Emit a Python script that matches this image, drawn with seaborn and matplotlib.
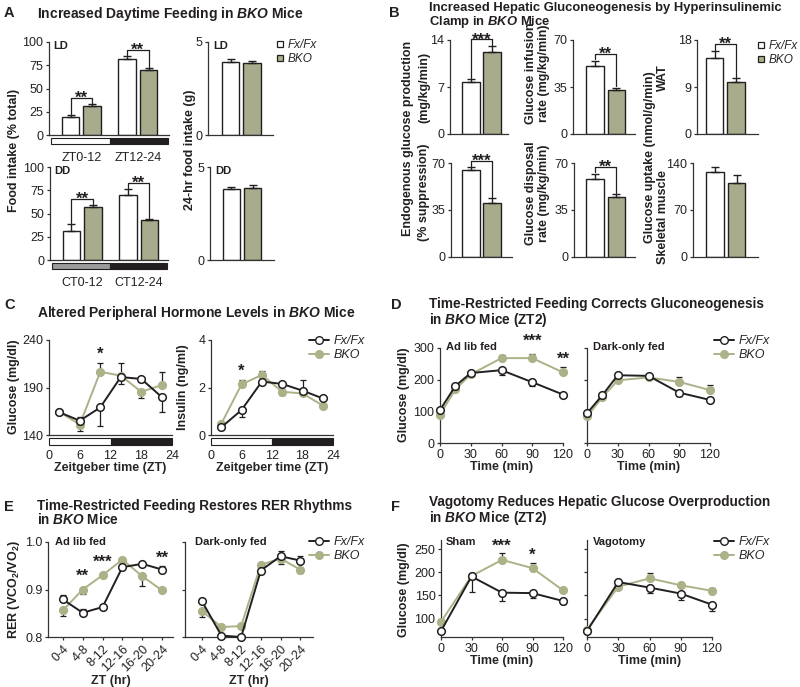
import numpy as np
import pandas as pd
import matplotlib
matplotlib.use("Agg")
import matplotlib.pyplot as plt
import seaborn as sns
from matplotlib.patches import Rectangle
from matplotlib.lines import Line2D

# ---------------- data ----------------
genotypes = ["Fx/Fx", "BKO"]

# A - food intake
ld_periods = ["ZT0-12", "ZT12-24"]
dd_periods = ["CT0-12", "CT12-24"]
ld_fx = [19, 82]
ld_fx_err = [2.5, 2.5]
ld_bko = [31, 70]
ld_bko_err = [2, 2]
dd_fx = [31.5, 70]
dd_fx_err = [7, 6]
dd_bko = [57.5, 42.5]
dd_bko_err = [1.5, 1.5]
day24 = ["24h"]
ld24_fx = [3.95]
ld24_fx_err = [0.14]
ld24_bko = [3.87]
ld24_bko_err = [0.09]
dd24_fx = [3.8]
dd24_fx_err = [0.14]
dd24_bko = [3.85]
dd24_bko_err = [0.18]

# B - clamp
clamp = ["clamp"]
egp_fx, egp_fx_err, egp_bko, egp_bko_err = [7.7], [0.5], [12.2], [0.9]
gir_fx, gir_fx_err, gir_bko, gir_bko_err = [50.5], [4], [32.5], [2]
wat_fx, wat_fx_err, wat_bko, wat_bko_err = [14.6], [1.3], [10.0], [0.7]
supp_fx, supp_fx_err, supp_bko, supp_bko_err = [64.5], [2.3], [40], [3.7]
gdr_fx, gdr_fx_err, gdr_bko, gdr_bko_err = [58.3], [3.7], [44.5], [2.3]
musc_fx, musc_fx_err, musc_bko, musc_bko_err = [126], [8], [110], [12.5]

# C - hormones (signed errors: + drawn up, - drawn down)
zt = [2, 6, 10, 14, 18, 22]
glu_fx = [164, 155, 169, 201, 199, 180]
glu_fx_err = [-1.5, 4, -19, -7, -3, -16]
glu_bko = [164.5, 151, 206.5, 202.5, 185.5, 192.5]
glu_bko_err = [-1, -7, 9.5, 13, -7, 14]
ins_fx = [0.32, 1.05, 2.25, 2.15, 1.87, 1.54]
ins_fx_err = [-0.05, -0.28, -0.1, 0.05, 0.45, 0.05]
ins_bko = [0.46, 2.13, 2.53, 1.82, 1.75, 1.24]
ins_bko_err = [0.05, 0.2, 0.18, -0.15, -0.05, -0.12]

# D - time restricted feeding, glucose
t_d = [0, 15, 30, 60, 90, 120]
adlib_fx = [104, 180, 221, 230, 192, 153]
adlib_fx_err = [3, 5, -10, -15, -12, -4]
adlib_bko = [90, 169, 217, 268, 268, 223]
adlib_bko_err = [-4, -5, 3, 10, 12, 18]
dark_fx = [94, 151, 214, 212, 159, 136]
dark_fx_err = [3, 4, -3, -4, -10, -3]
dark_bko = [84, 144, 198, 207, 193, 167]
dark_bko_err = [-3, -5, -3, 5, 15, 15]

# E - RER
zt_bins = ["0-4", "4-8", "8-12", "12-16", "16-20", "20-24"]
rer_ad_fx = [0.879, 0.851, 0.863, 0.947, 0.954, 0.942]
rer_ad_fx_err = [0.009, 0.008, 0.002, 0.003, 0.003, 0.008]
rer_ad_bko = [0.856, 0.900, 0.930, 0.963, 0.928, 0.898]
rer_ad_bko_err = [-0.011, -0.010, -0.003, 0.003, -0.021, -0.003]
rer_dk_fx = [0.876, 0.803, 0.800, 0.940, 0.970, 0.961]
rer_dk_fx_err = [0.003, -0.003, 0.0, 0.004, 0.011, 0.010]
rer_dk_bko = [0.855, 0.821, 0.823, 0.952, 0.965, 0.942]
rer_dk_bko_err = [-0.012, 0.002, 0.003, 0.003, -0.012, -0.007]

# F - vagotomy
t_f = [0, 30, 60, 90, 120]
sham_fx = [73, 191, 156, 155, 138]
sham_fx_err = [-3, -34, -18, -10, -7]
sham_bko = [93, 192, 227, 209, 161]
sham_bko_err = [4, 3, 14, 12, 2]
vag_fx = [73, 179, 167, 154, 130]
vag_fx_err = [-2, -3, -12, -13, -13]
vag_bko = [76, 169, 187, 172, 160]
vag_bko_err = [-2, -3, 11, 3, 5]

# ---------------- style ----------------
GREEN = "#adb187"
DARK = "#231f20"
W, H = 800, 687

sns.set_style("ticks")
plt.rcParams["font.family"] = ["Liberation Sans", "DejaVu Sans"]
plt.rcParams.update({
    "mathtext.fontset": "custom",
    "mathtext.default": "regular",
    "mathtext.it": "Liberation Sans:italic:bold",
    "axes.edgecolor": "#333333",
    "axes.linewidth": 0.9,
    "xtick.color": "#333333",
    "ytick.color": "#333333",
    "xtick.labelcolor": "#222222",
    "ytick.labelcolor": "#222222",
    "xtick.labelsize": 9,
    "ytick.labelsize": 9,
    "xtick.major.size": 2.5,
    "ytick.major.size": 2.5,
    "xtick.major.width": 0.9,
    "ytick.major.width": 0.9,
    "xtick.major.pad": 1.5,
    "ytick.major.pad": 1.5,
})

fig = plt.figure(figsize=(8, 6.87), dpi=100)


def px_axes(x0, y0, x1, y1):
    ax = fig.add_axes([x0 / W, 1 - y1 / H, (x1 - x0) / W, (y1 - y0) / H])
    sns.despine(ax=ax)
    return ax


def ftext(x, y, s, **kw):
    kw.setdefault("fontsize", 9)
    kw.setdefault("fontweight", "bold")
    kw.setdefault("va", "center")
    return fig.text(x / W, 1 - y / H, s, color=DARK, **kw)


def bar_pair(ax, cats, fx, fx_err, bko, bko_err, ymax, xlim, yticks):
    df = pd.DataFrame({
        "cat": list(cats) * 2,
        "genotype": [genotypes[0]] * len(cats) + [genotypes[1]] * len(cats),
        "value": list(fx) + list(bko),
    })
    sns.barplot(data=df, x="cat", y="value", hue="genotype",
                palette={"Fx/Fx": "white", "BKO": GREEN}, edgecolor=DARK,
                linewidth=1.0, width=0.76, gap=0.18, errorbar=None,
                legend=False, ax=ax)
    tops = []
    for cont, errs in zip(ax.containers, [fx_err, bko_err]):
        row = []
        for bar, e in zip(cont, errs):
            xc = bar.get_x() + bar.get_width() / 2
            ax.errorbar([xc], [bar.get_height()], yerr=[[0], [e]], fmt="none",
                        ecolor=DARK, elinewidth=1.0, capsize=3, capthick=1.0,
                        zorder=1)
            row.append((xc, bar.get_height() + e))
        tops.append(row)
    ax.set_ylim(0, ymax)
    ax.set_yticks(yticks)
    ax.set_yticklabels([f"{v:g}" for v in yticks])
    ax.set_xlim(*xlim)
    ax.set_xlabel("")
    ax.set_ylabel("")
    return tops


def bracket(ax, a, b, stars, ymax):
    (x1, y1), (x2, y2) = a, b
    level = max(y1, y2) + 0.07 * ymax
    ax.plot([x1, x1, x2, x2], [y1 + 0.015 * ymax, level, level, y2 + 0.015 * ymax],
            color=DARK, lw=0.9, clip_on=False)
    ax.annotate(stars, xy=((x1 + x2) / 2, level), xytext=(0, -3.5),
                textcoords="offset points", ha="center", va="baseline",
                fontsize=12, fontweight="bold", color=DARK, annotation_clip=False)


def light_dark(ax, spans):
    tr = ax.get_xaxis_transform()
    for (a, b, col) in spans:
        ax.add_patch(Rectangle((a, -0.10), b - a, 0.07, transform=tr,
                               facecolor=col, edgecolor=DARK, lw=0.8,
                               clip_on=False))


def line_pair(ax, x, fx, fx_err, bko, bko_err):
    for vals, errs, face, col, z in [(bko, bko_err, GREEN, GREEN, 3),
                                     (fx, fx_err, "white", DARK, 4)]:
        sns.lineplot(x=x, y=vals, ax=ax, color=col, lw=1.4, marker="o",
                     markersize=5.5, markerfacecolor=face, markeredgecolor=col,
                     markeredgewidth=1.1, zorder=z, clip_on=False, sort=False)
        up = [max(e, 0) for e in errs]
        lo = [max(-e, 0) for e in errs]
        ax.errorbar(x, vals, yerr=[lo, up], fmt="none", ecolor=DARK,
                    elinewidth=0.9, capsize=2.5, capthick=0.9,
                    zorder=z - 0.5, clip_on=False)
    ax.set_xlabel("")
    ax.set_ylabel("")


def star(ax, x, y, s, off=3):
    ax.annotate(s, xy=(x, y), xytext=(0, off), textcoords="offset points",
                ha="center", va="baseline", fontsize=12, fontweight="bold",
                color=DARK, annotation_clip=False)


def square_legend(x, y):
    hs = [Line2D([], [], ls="", marker="s", markersize=5, markerfacecolor=c,
                 markeredgecolor=DARK, markeredgewidth=0.9)
          for c in ["white", GREEN]]
    fig.legend(hs, genotypes, loc="upper left",
               bbox_to_anchor=(x / W, 1 - y / H), frameon=False,
               borderpad=0, borderaxespad=0, handlelength=0.6,
               handletextpad=0.35, labelspacing=0.15,
               prop={"style": "italic", "size": 8.5})


def line_legend(x, y):
    hs = [Line2D([], [], color=DARK, lw=1.4, marker="o", markersize=5.5,
                 markerfacecolor="white", markeredgecolor=DARK),
          Line2D([], [], color=GREEN, lw=1.4, marker="o", markersize=5.5,
                 markerfacecolor=GREEN, markeredgecolor=GREEN)]
    fig.legend(hs, genotypes, loc="upper left",
               bbox_to_anchor=(x / W, 1 - y / H), frameon=False,
               borderpad=0, borderaxespad=0, handlelength=1.6,
               handletextpad=0.4, labelspacing=0.15,
               prop={"style": "italic", "size": 9})


# ---------------- panel A ----------------
ftext(4, 13, "A", fontsize=10.5)
ftext(37, 14, r"Increased Daytime Feeding in $\mathit{BKO}$ Mice", fontsize=10)

ax = px_axes(49, 42, 169, 135)
t = bar_pair(ax, ld_periods, ld_fx, ld_fx_err, ld_bko, ld_bko_err, 100,
             (-0.57, 1.55), [0, 25, 50, 75, 100])
for i in range(2):
    bracket(ax, t[0][i], t[1][i], "**", 100)
light_dark(ax, [(-0.57 + 0.035, 0.5, "white"), (0.5, 1.53, DARK)])
ax.tick_params(axis="x", length=0, pad=12)
ftext(53, 46, "LD", fontsize=8)

ax = px_axes(208, 42, 273, 135)
bar_pair(ax, day24, ld24_fx, ld24_fx_err, ld24_bko, ld24_bko_err, 5,
         (-0.59, 0.56), [0, 5])
ax.set_xticks([])
ftext(213, 46, "LD", fontsize=8)

ax = px_axes(50, 167, 168, 260)
t = bar_pair(ax, dd_periods, dd_fx, dd_fx_err, dd_bko, dd_bko_err, 100,
             (-0.57, 1.52), [0, 25, 50, 75, 100])
for i in range(2):
    bracket(ax, t[0][i], t[1][i], "**", 100)
light_dark(ax, [(-0.57 + 0.035, 0.5, "#9b9b9b"), (0.5, 1.5, DARK)])
ax.tick_params(axis="x", length=0, pad=12)
ftext(54, 171, "DD", fontsize=8)

ax = px_axes(210, 167, 274, 260)
bar_pair(ax, day24, dd24_fx, dd24_fx_err, dd24_bko, dd24_bko_err, 5,
         (-0.57, 0.57), [0, 5])
ax.set_xticks([])
ftext(215, 171, "DD", fontsize=8)

ftext(14, 150, "Food intake (% total)", rotation=90, ha="center")
ftext(190, 150, "24-hr food intake (g)", rotation=90, ha="center")
square_legend(276, 39)

# ---------------- panel B ----------------
ftext(389, 13, "B", fontsize=10.5)
ftext(429, 16.5, "Increased Hepatic Gluconeogenesis by Hyperinsulinemic\n"
      r"Clamp in $\mathit{BKO}$ Mice", fontsize=9.4, linespacing=1.0)

b_panels = [
    ((450, 40, 508, 134), egp_fx, egp_fx_err, egp_bko, egp_bko_err, 14, (-0.56, 0.47), "***"),
    ((573, 40, 635, 134), gir_fx, gir_fx_err, gir_bko, gir_bko_err, 70, (-0.58, 0.52), "**"),
    ((697, 40, 758, 134), wat_fx, wat_fx_err, wat_bko, wat_bko_err, 18, (-0.5, 0.58), "**"),
    ((451, 163, 512, 257), supp_fx, supp_fx_err, supp_bko, supp_bko_err, 70, (-0.54, 0.54), "***"),
    ((574, 163, 635, 257), gdr_fx, gdr_fx_err, gdr_bko, gdr_bko_err, 70, (-0.56, 0.52), "**"),
    ((693, 163, 758, 257), musc_fx, musc_fx_err, musc_bko, musc_bko_err, 140, (-0.58, 0.57), ""),
]
for box, f, fe, b, be, ymax, xl, s in b_panels:
    ax = px_axes(*box)
    t = bar_pair(ax, clamp, f, fe, b, be, ymax, xl, [0, ymax / 2, ymax])
    ax.set_xticks([])
    if s:
        bracket(ax, t[0][0], t[1][0], s, ymax)

ftext(408, 138, "Endogenous glucose production", rotation=90, ha="center")
ftext(424, 87, "(mg/kg/min)", rotation=90, ha="center")
ftext(424, 192, "(% suppression)", rotation=90, ha="center")
ftext(531, 73, "Glucose infusion", rotation=90, ha="center")
ftext(544, 73, "rate (mg/kg/min)", rotation=90, ha="center")
ftext(531, 193, "Glucose disposal", rotation=90, ha="center")
ftext(544, 193, "rate (mg/kg/min)", rotation=90, ha="center")
ftext(650, 157, "Glucose uptake (nmol/g/min)", rotation=90, ha="center")
ftext(663, 78, "WAT", rotation=90, ha="center")
ftext(663, 217, "Skeletal muscle", rotation=90, ha="center")
square_legend(757, 40)

# ---------------- panel C ----------------
ftext(4, 305, "C", fontsize=10.5)
ftext(37, 313, r"Altered Peripheral Hormone Levels in $\mathit{BKO}$ Mice", fontsize=10)

ax = px_axes(49, 340, 172, 435)
line_pair(ax, zt, glu_fx, glu_fx_err, glu_bko, glu_bko_err)
ax.set(xlim=(0, 24), ylim=(140, 240), xticks=[0, 6, 12, 18, 24], yticks=[140, 190, 240])
light_dark(ax, [(0, 12, "white"), (12, 24, DARK)])
ax.tick_params(axis="x", length=0, pad=11)
star(ax, 10, glu_bko[2] + glu_bko_err[2], "*")
ax.set_xlabel("Zeitgeber time (ZT)", fontweight="bold", fontsize=9, labelpad=0)
ftext(14, 387, "Glucose (mg/dl)", rotation=90, ha="center")

ax = px_axes(211, 340, 333, 435)
line_pair(ax, zt, ins_fx, ins_fx_err, ins_bko, ins_bko_err)
ax.set(xlim=(0, 24), ylim=(0, 4), xticks=[0, 6, 12, 18, 24], yticks=[0, 2, 4])
light_dark(ax, [(0, 12, "white"), (12, 24, DARK)])
ax.tick_params(axis="x", length=0, pad=11)
star(ax, 6, ins_bko[1] + ins_bko_err[1], "*")
ax.set_xlabel("Zeitgeber time (ZT)", fontweight="bold", fontsize=9, labelpad=0)
ftext(183, 387, "Insulin (ng/ml)", rotation=90, ha="center")
line_legend(309, 335)

# ---------------- panel D ----------------
ftext(391, 305, "D", fontsize=10.5)
ftext(429, 313, "Time-Restricted Feeding Corrects Gluconeogenesis\n"
      r"in $\mathit{BKO}$ Mice (ZT2)", fontsize=9.8, linespacing=0.95)

ax = px_axes(440, 348, 563, 443)
line_pair(ax, t_d, adlib_fx, adlib_fx_err, adlib_bko, adlib_bko_err)
ax.set(xlim=(0, 120), ylim=(0, 300), xticks=[0, 30, 60, 90, 120], yticks=[0, 100, 200, 300])
star(ax, 90, adlib_bko[4] + adlib_bko_err[4], "***", off=6)
star(ax, 120, adlib_bko[5] + adlib_bko_err[5], "**", off=2)
ax.set_xlabel("Time (min)", fontweight="bold", fontsize=9, labelpad=0)
ftext(446, 347, "Ad lib fed", fontsize=8, va="center")

ax = px_axes(587, 348, 710, 443)
line_pair(ax, t_d, dark_fx, dark_fx_err, dark_bko, dark_bko_err)
ax.set(xlim=(0, 120), ylim=(0, 300), xticks=[0, 30, 60, 90, 120], yticks=[0, 100, 200, 300])
ax.tick_params(axis="y", labelleft=False)
ax.set_xlabel("Time (min)", fontweight="bold", fontsize=9, labelpad=0)
ftext(593, 347, "Dark-only fed", fontsize=8)
ftext(404, 395, "Glucose (mg/dl)", rotation=90, ha="center")
line_legend(714, 335)

# ---------------- panel E ----------------
ftext(4, 507, "E", fontsize=10.5)
ftext(37, 513, "Time-Restricted Feeding Restores RER Rhythms\n"
      r"in $\mathit{BKO}$ Mice", fontsize=9.8, linespacing=0.95)

for box, f, fe, b, be, xl, lab, lx in [
        ((48, 542, 173, 637), rer_ad_fx, rer_ad_fx_err, rer_ad_bko, rer_ad_bko_err, (-0.75, 5.55), "Ad lib fed", 55),
        ((185, 542, 313, 637), rer_dk_fx, rer_dk_fx_err, rer_dk_bko, rer_dk_bko_err, (-0.85, 5.65), "Dark-only fed", 195)]:
    ax = px_axes(*box)
    line_pair(ax, zt_bins, f, fe, b, be)
    ax.set(xlim=xl, ylim=(0.8, 1.0), yticks=[0.8, 0.9, 1.0])
    ax.set_yticklabels(["0.8", "0.9", "1.0"])
    ax.tick_params(axis="x", rotation=45)
    for lbl in ax.get_xticklabels():
        lbl.set_ha("right")
        lbl.set_rotation_mode("anchor")
    ax.set_xlabel("ZT (hr)", fontweight="bold", fontsize=9, labelpad=1)
    ftext(lx, 542, lab, fontsize=8)
    if lab == "Dark-only fed":
        ax.tick_params(axis="y", labelleft=False)
    else:
        star(ax, 1, rer_ad_bko[1], "**", off=6)
        star(ax, 2, rer_ad_bko[2], "***", off=6)
        star(ax, 5, rer_ad_fx[5] + rer_ad_fx_err[5], "**", off=2)
ftext(14, 590, r"RER (VCO$_2$/VO$_2$)", rotation=90, ha="center")
line_legend(309, 536)

# ---------------- panel F ----------------
ftext(391, 507, "F", fontsize=10.5)
ftext(429, 511, "Vagotomy Reduces Hepatic Glucose Overproduction\n"
      r"in $\mathit{BKO}$ Mice (ZT2)", fontsize=9.8, linespacing=0.95)

for box, f, fe, b, be, lab in [
        ((441, 540, 563, 637), sham_fx, sham_fx_err, sham_bko, sham_bko_err, "Sham"),
        ((587, 540, 712, 637), vag_fx, vag_fx_err, vag_bko, vag_bko_err, "Vagotomy")]:
    ax = px_axes(*box)
    line_pair(ax, t_f, f, fe, b, be)
    ax.set(xlim=(0, 120), ylim=(60, 270), xticks=[0, 30, 60, 90, 120],
           yticks=[100, 150, 200, 250])
    ax.set_xlabel("Time (min)", fontweight="bold", fontsize=9, labelpad=0)
    if lab == "Sham":
        star(ax, 60, sham_bko[2] + sham_bko_err[2], "***", off=2)
        star(ax, 90, sham_bko[3] + sham_bko_err[3], "*", off=2)
        ftext(446, 542, lab, fontsize=8)
    else:
        ax.tick_params(axis="y", labelleft=False)
        ftext(593, 542, lab, fontsize=8)
ftext(404, 590, "Glucose (mg/dl)", rotation=90, ha="center")
line_legend(714, 536)

fig.savefig("out.png", dpi=100)
